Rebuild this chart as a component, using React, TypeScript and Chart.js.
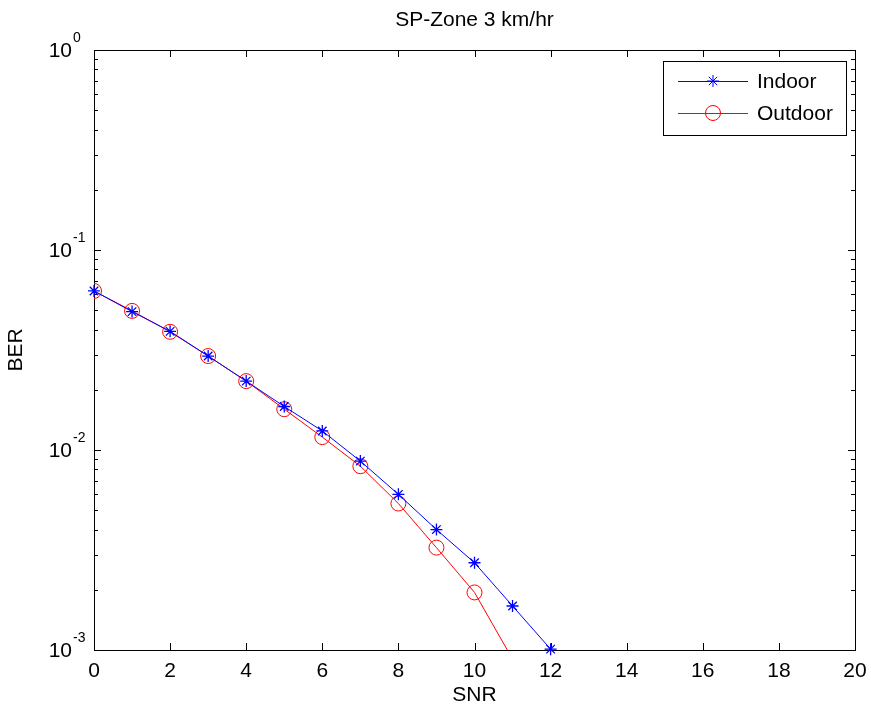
import React, { useEffect, useRef } from "react";
import { Chart, registerables } from "chart.js";

Chart.register(...registerables);

const snr = [0, 1, 2, 3, 4, 5, 6, 7, 8, 9, 10, 11, 12];
const indoorBER = [0.0624, 0.0492, 0.0392, 0.0295, 0.0221, 0.0165, 0.01245, 0.0088, 0.0060, 0.0040, 0.00273, 0.00166, 0.00101];
const outdoorBER = [0.0624, 0.0496, 0.0390, 0.0295, 0.0221, 0.0160, 0.0116, 0.0083, 0.0054, 0.00325, 0.00194, 0.0009];
const xTicks = [0, 2, 4, 6, 8, 10, 12, 14, 16, 18, 20];
const yExponents = [-3, -2, -1, 0];
const seriesNames = ["Indoor", "Outdoor"];
const titleText = "SP-Zone 3 km/hr";
const xTitle = "SNR";
const yTitle = "BER";

const FONT = "'Liberation Sans', Arial, Helvetica, sans-serif";

const matlabPlugin = {
  id: "matlabAxes",
  beforeDatasetsDraw(chart: any) {
    const ctx = chart.ctx;
    const { left, right, top, bottom } = chart.chartArea;
    const xs = chart.scales.x;
    const ys = chart.scales.y;
    ctx.save();
    ctx.strokeStyle = "#000";
    ctx.lineWidth = 1;
    ctx.strokeRect(Math.round(left) + 0.5, Math.round(top) + 0.5, Math.round(right - left), Math.round(bottom - top));
    ctx.beginPath();
    for (const v of xTicks) {
      const px = Math.round(xs.getPixelForValue(v)) + 0.5;
      ctx.moveTo(px, bottom);
      ctx.lineTo(px, bottom - 7);
      ctx.moveTo(px, top);
      ctx.lineTo(px, top + 7);
    }
    for (const e of yExponents) {
      const py = Math.round(ys.getPixelForValue(Math.pow(10, e))) + 0.5;
      ctx.moveTo(left, py);
      ctx.lineTo(left + 7, py);
      ctx.moveTo(right, py);
      ctx.lineTo(right - 7, py);
      if (e < 0) {
        for (let m = 2; m <= 9; m++) {
          const pm = Math.round(ys.getPixelForValue(m * Math.pow(10, e))) + 0.5;
          ctx.moveTo(left, pm);
          ctx.lineTo(left + 4, pm);
          ctx.moveTo(right, pm);
          ctx.lineTo(right - 4, pm);
        }
      }
    }
    ctx.stroke();
    ctx.fillStyle = "#000";
    ctx.textBaseline = "alphabetic";
    for (const e of yExponents) {
      const py = ys.getPixelForValue(Math.pow(10, e));
      ctx.font = "21px " + FONT;
      ctx.textAlign = "right";
      ctx.fillText("10", left - 22, py + 7);
      ctx.font = "14px " + FONT;
      ctx.textAlign = "left";
      ctx.fillText(String(e), left - 21, py - 8);
    }
    ctx.font = "21px " + FONT;
    ctx.textAlign = "center";
    ctx.fillText(titleText, (left + right) / 2, 26);
    ctx.restore();
  },
  afterDraw(chart: any) {
    const ctx = chart.ctx;
    ctx.save();
    const bx = 663, by = 61, bw = 183, bh = 74;
    ctx.fillStyle = "#fff";
    ctx.fillRect(bx, by, bw, bh);
    ctx.strokeStyle = "#000";
    ctx.lineWidth = 1;
    ctx.strokeRect(bx + 0.5, by + 0.5, bw, bh);
    const rows = [81, 113];
    const colors = ["#0000ff", "#ff0000"];
    rows.forEach((ry, i) => {
      ctx.strokeStyle = colors[i];
      ctx.beginPath();
      ctx.moveTo(678, ry + 0.5);
      ctx.lineTo(748, ry + 0.5);
      ctx.stroke();
      ctx.beginPath();
      if (i === 0) {
        const r = 6;
        ctx.moveTo(713 - r, ry);
        ctx.lineTo(713 + r, ry);
        ctx.moveTo(713, ry - r);
        ctx.lineTo(713, ry + r);
        const d = r * Math.SQRT1_2;
        ctx.moveTo(713 - d, ry - d);
        ctx.lineTo(713 + d, ry + d);
        ctx.moveTo(713 - d, ry + d);
        ctx.lineTo(713 + d, ry - d);
      } else {
        ctx.arc(713, ry, 7.5, 0, Math.PI * 2);
      }
      ctx.stroke();
      ctx.fillStyle = "#000";
      ctx.font = "21px " + FONT;
      ctx.textAlign = "left";
      ctx.textBaseline = "middle";
      ctx.fillText(seriesNames[i], 757, ry + 1);
    });
    ctx.restore();
  },
};

export default function App() {
  const ref = useRef<HTMLCanvasElement | null>(null);
  useEffect(() => {
    if (!ref.current) return;
    const chart = new Chart(ref.current, {
      type: "line",
      data: {
        datasets: [
          {
            label: seriesNames[0],
            data: indoorBER.map((v, i) => ({ x: snr[i], y: v })),
            borderColor: "#0000ff",
            backgroundColor: "#0000ff",
            borderWidth: 1,
            pointStyle: "star",
            pointRadius: 6,
            pointBorderWidth: 1.3,
            pointBorderColor: "#0000ff",
            tension: 0,
            clip: { left: 10, top: 10, right: 10, bottom: 10 } as any,
          },
          {
            label: seriesNames[1],
            data: outdoorBER.map((v, i) => ({ x: snr[i], y: v })),
            borderColor: "#ff0000",
            backgroundColor: "rgba(0,0,0,0)",
            borderWidth: 1,
            pointStyle: "circle",
            pointRadius: 7.5,
            pointBorderWidth: 1,
            pointBorderColor: "#ff0000",
            pointBackgroundColor: "rgba(0,0,0,0)",
            tension: 0,
            clip: 0 as any,
          },
        ],
      },
      options: {
        animation: false,
        responsive: true,
        maintainAspectRatio: false,
        layout: { padding: { left: 0, right: 16, top: 50, bottom: 0 } },
        plugins: {
          legend: { display: false },
          title: { display: false },
          tooltip: { enabled: false },
        },
        scales: {
          x: {
            type: "linear",
            min: 0,
            max: 20,
            grid: { display: false, drawTicks: false },
            border: { display: false },
            ticks: {
              stepSize: 2,
              padding: 9,
              color: "#000",
              font: { family: FONT, size: 21 },
              maxRotation: 0,
            },
            title: {
              display: true,
              text: xTitle,
              color: "#000",
              font: { family: FONT, size: 21 },
              padding: { top: 0, bottom: 3 },
            },
            afterFit: (s: any) => {
              s.height = 61;
              s.paddingLeft = 0;
              s.paddingRight = 0;
            },
          },
          y: {
            type: "logarithmic",
            min: 0.001,
            max: 1,
            grid: { display: false, drawTicks: false },
            border: { display: false },
            ticks: { display: false },
            title: {
              display: true,
              text: yTitle,
              color: "#000",
              font: { family: FONT, size: 21 },
              padding: { top: 4, bottom: 0 },
            },
            afterFit: (s: any) => {
              s.width = 94;
              s.paddingTop = 0;
              s.paddingBottom = 0;
            },
          },
        },
      },
      plugins: [matlabPlugin],
    });
    return () => chart.destroy();
  }, []);
  return (
    <div style={{ position: "absolute", left: 0, top: 0, width: 871, height: 711, background: "#fff" }}>
      <canvas ref={ref} />
    </div>
  );
}
